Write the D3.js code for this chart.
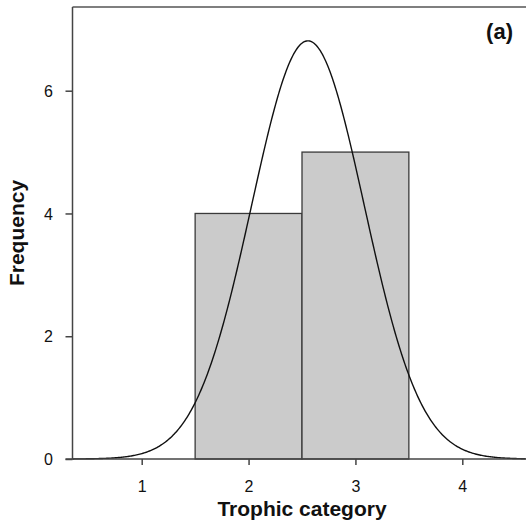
<!DOCTYPE html>
<html>
<head>
<meta charset="utf-8">
<script src="https://cdn.jsdelivr.net/npm/d3@7"></script>
<style>
html,body{margin:0;padding:0;background:#fff;}
svg{display:block;}
text{font-family:"Liberation Sans",Arial,Helvetica,sans-serif;fill:#111;}
</style>
</head>
<body>
<svg id="chart" width="526" height="527"></svg>
<script>
// ---- data ----
const binStarts = [1.5, 2.5];
const binEnds = [2.5, 3.5];
const binCounts = [4, 5];
const binMids = [2, 3];
const xTicks = [1, 2, 3, 4];
const yTicks = [0, 2, 4, 6];
const panelLabel = "(a)";
const xLabel = "Trophic category";
const yLabel = "Frequency";

// ---- fitted normal (from the histogram data) ----
const n = d3.sum(binCounts);
const mean = d3.sum(binMids.map((m, i) => m * binCounts[i])) / n;
const sd = Math.sqrt(d3.sum(binMids.map((m, i) => binCounts[i] * (m - mean) ** 2)) / (n - 1));
const binWidth = binEnds[0] - binStarts[0];

const W = 526, H = 527;
const svg = d3.select("#chart");

const x = d3.scaleLinear().domain([1, 4]).range([141.7, 462.3]);
const y = d3.scaleLinear().domain([0, 6]).range([459, 90.7]);

const plotLeft = 72.5, plotTop = 7, plotBottom = y(0), plotRight = W;

// bars
svg.append("g").selectAll("rect")
  .data(binCounts)
  .join("rect")
  .attr("x", (d, i) => x(binStarts[i]))
  .attr("width", (d, i) => x(binEnds[i]) - x(binStarts[i]))
  .attr("y", d => y(d))
  .attr("height", d => y(0) - y(d))
  .attr("fill", "#cbcbcb")
  .attr("stroke", "#3a3a3a")
  .attr("stroke-width", 1.3);

// normal curve
const xs = d3.range(x.invert(plotLeft), x.invert(plotRight) + 0.001, 0.01);
const dens = v => n * binWidth * Math.exp(-0.5 * ((v - mean) / sd) ** 2) / (sd * Math.sqrt(2 * Math.PI));
svg.append("path")
  .datum(xs)
  .attr("d", d3.line().x(d => x(d)).y(d => y(dens(d))))
  .attr("fill", "none")
  .attr("stroke", "#111")
  .attr("stroke-width", 1.4);

// frame line (top)
svg.append("line").attr("x1", plotLeft).attr("x2", plotRight).attr("y1", plotTop).attr("y2", plotTop)
  .attr("stroke", "#555").attr("stroke-width", 1.5);

// y axis
const yAxis = svg.append("g").attr("transform", `translate(${plotLeft},0)`)
  .call(d3.axisLeft(y).tickValues(yTicks).tickSize(7).tickFormat(d3.format("d")));
yAxis.select(".domain").remove();
yAxis.append("line").attr("x1", 0).attr("x2", 0).attr("y1", plotTop).attr("y2", plotBottom)
  .attr("stroke", "#444").attr("stroke-width", 1.5);
yAxis.selectAll(".tick line").attr("stroke", "#444").attr("stroke-width", 1.5);
yAxis.selectAll(".tick text")
  .attr("x", -19.5).attr("dy", "0.35em")
  .attr("fill", "#111")
  .style("font-size", "16px")
  .style("font-family", "'Liberation Sans',Arial,sans-serif");

// x axis
const xAxis = svg.append("g").attr("transform", `translate(0,${plotBottom})`)
  .call(d3.axisBottom(x).tickValues(xTicks).tickSize(6).tickFormat(d3.format("d")));
xAxis.select(".domain").remove();
xAxis.append("line").attr("x1", plotLeft - 7).attr("x2", plotRight).attr("y1", 0).attr("y2", 0)
  .attr("stroke", "#444").attr("stroke-width", 1.5);
xAxis.selectAll(".tick line").attr("stroke", "#444").attr("stroke-width", 1.5);
xAxis.selectAll(".tick text")
  .attr("y", 33).attr("dy", "0")
  .attr("fill", "#111")
  .style("font-size", "16px")
  .style("font-family", "'Liberation Sans',Arial,sans-serif");

// axis titles
svg.append("text").attr("x", (x(1) + x(4)) / 2).attr("y", 516)
  .attr("text-anchor", "middle").style("font-size", "21px").style("font-weight", "bold")
  .text(xLabel);
svg.append("text").attr("transform", `translate(23.5,${(plotTop + plotBottom) / 2}) rotate(-90)`)
  .attr("text-anchor", "middle").style("font-size", "21px").style("font-weight", "bold")
  .text(yLabel);

// panel label
svg.append("text").attr("x", 513).attr("y", 39)
  .attr("text-anchor", "end").style("font-size", "22px").style("font-weight", "bold")
  .text(panelLabel);
</script>
</body>
</html>
